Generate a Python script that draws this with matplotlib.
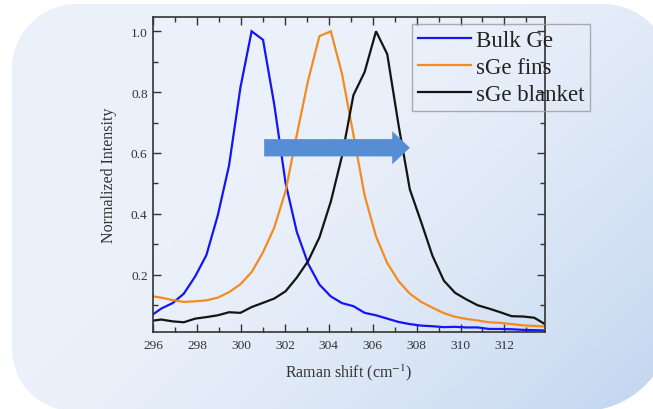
import numpy as np
import matplotlib
matplotlib.use("Agg")
import matplotlib.pyplot as plt
from matplotlib.ticker import MultipleLocator
from matplotlib.patches import Polygon, FancyArrow

# Raman shift sampling (cm^-1)
raman_shift = [295.85, 296.36, 296.88, 297.39, 297.91, 298.42, 298.94, 299.45, 299.97,
               300.48, 301.00, 301.51, 302.03, 302.54, 303.06, 303.57, 304.09, 304.60,
               305.12, 305.63, 306.15, 306.66, 307.18, 307.69, 308.21, 308.72, 309.24,
               309.75, 310.27, 310.78, 311.30, 311.81, 312.33, 312.84, 313.36, 313.87]

bulk_ge = [0.062, 0.088, 0.106, 0.137, 0.194, 0.264, 0.395, 0.558, 0.815,
           1.000, 0.972, 0.760, 0.500, 0.340, 0.235, 0.167, 0.128, 0.106,
           0.096, 0.074, 0.066, 0.055, 0.044, 0.037, 0.032, 0.030, 0.027,
           0.028, 0.026, 0.026, 0.021, 0.021, 0.020, 0.018, 0.017, 0.016]

sge_fins = [0.130, 0.124, 0.116, 0.110, 0.112, 0.115, 0.124, 0.142, 0.168,
            0.208, 0.273, 0.354, 0.475, 0.660, 0.840, 0.984, 1.000, 0.860,
            0.660, 0.460, 0.325, 0.238, 0.178, 0.137, 0.110, 0.091, 0.073,
            0.061, 0.054, 0.049, 0.043, 0.041, 0.037, 0.033, 0.031, 0.029]

sge_blanket = [0.047, 0.052, 0.046, 0.043, 0.055, 0.060, 0.066, 0.076, 0.074,
               0.093, 0.107, 0.121, 0.145, 0.190, 0.245, 0.322, 0.440, 0.590,
               0.790, 0.866, 1.000, 0.925, 0.690, 0.480, 0.372, 0.262, 0.180,
               0.140, 0.118, 0.099, 0.088, 0.076, 0.063, 0.062, 0.058, 0.036]

series_labels = ["Bulk Ge", "sGe fins", "sGe blanket"]
series_colors = ["#1515F5", "#F58A1F", "#141414"]

plt.rcParams["font.family"] = ["Liberation Serif", "DejaVu Serif"]
plt.rcParams["mathtext.fontset"] = "stix"

W, H = 653, 410
fig = plt.figure(figsize=(W / 100, H / 100), dpi=100, facecolor="white")

# --- rounded, gradient-filled panel behind the chart ---
bg = fig.add_axes([0, 0, 1, 1], zorder=-10)
bg.set_xlim(0, W)
bg.set_ylim(H, 0)
bg.axis("off")

def corner(cx, cy, r, a0, a1, n=30):
    a = np.radians(np.linspace(a0, a1, n))
    return np.column_stack([cx + r * np.cos(a), cy + r * np.sin(a)])

left, top, right, bottom = 12, 5, 671, 412
r_tl, r_tr, r_br, r_bl = 65, 68, 88, 62
outline = np.vstack([
    corner(left + r_tl, top + r_tl, r_tl, 180, 270),
    corner(right - r_tr, top + r_tr, r_tr, 270, 360),
    corner(right - r_br, bottom - r_br, r_br, 0, 90),
    corner(left + r_bl, bottom - r_bl, r_bl, 90, 180),
])
panel = Polygon(outline, closed=True, facecolor="none", edgecolor="none",
                transform=bg.transData)
bg.add_patch(panel)

gx, gy = np.meshgrid(np.linspace(0, 1, 330), np.linspace(0, 1, 210))
t = 0.6 * gx + 0.4 * gy
w = np.clip((t - 0.4) / 0.6, 0, 1) ** 1.4
light = np.array([235, 241, 250]) / 255
dark = np.array([194, 214, 240]) / 255
img = light[None, None, :] + (dark - light)[None, None, :] * w[..., None]
im = bg.imshow(img, extent=(0, W, H, 0), aspect="auto", interpolation="bilinear")
im.set_clip_path(panel)

# --- main chart ---
ax = fig.add_axes([153.3 / W, 1 - 332.7 / H, (545 - 153.3) / W, (332.7 - 18.3) / H])
ax.patch.set_alpha(0)

for y, lab, col in zip([bulk_ge, sge_fins, sge_blanket], series_labels, series_colors):
    ax.plot(raman_shift, y, color=col, lw=1.6, label=lab, solid_joinstyle="miter")

ax.set_xlim(296, 313.85)
ax.set_ylim(0.012, 1.046)
ax.xaxis.set_major_locator(MultipleLocator(2))
ax.xaxis.set_minor_locator(MultipleLocator(1))
ax.yaxis.set_major_locator(MultipleLocator(0.2))
ax.yaxis.set_minor_locator(MultipleLocator(0.1))
ax.tick_params(which="both", direction="in", top=True, right=True,
               color="#333333", width=1.0, labelsize=9.6, labelcolor="#333333")
ax.tick_params(which="major", length=6)
ax.tick_params(which="minor", length=3.5)
ax.tick_params(axis="y", pad=4)
ax.tick_params(axis="x", pad=5)
for s in ax.spines.values():
    s.set_color("#333333")
    s.set_linewidth(1.2)

ax.set_xlabel("Raman shift (cm$^{-1}$)", fontsize=11.5, color="#333333", labelpad=8)
ax.set_ylabel("Normalized Intensity", fontsize=11.5, color="#333333", labelpad=10)

# shift arrow
arr = FancyArrow(0.283, 0.585, 0.372, 0, width=0.055, head_width=0.105,
                 head_length=0.045, length_includes_head=True,
                 transform=ax.transAxes, facecolor="#568ED5", edgecolor="none",
                 zorder=5)
ax.add_patch(arr)

leg = ax.legend(loc="upper left", bbox_to_anchor=(0.660, 0.979), borderaxespad=0,
                fontsize=16.5, frameon=True, fancybox=False, handlelength=2.31,
                handletextpad=0.22, borderpad=0.26, labelspacing=0.26)
leg.get_frame().set_facecolor("none")
leg.get_frame().set_edgecolor("#9a9a9a")
leg.get_frame().set_linewidth(1.0)
for txt in leg.get_texts():
    txt.set_color("#222222")

fig.savefig("out.png", dpi=100, facecolor="white")
